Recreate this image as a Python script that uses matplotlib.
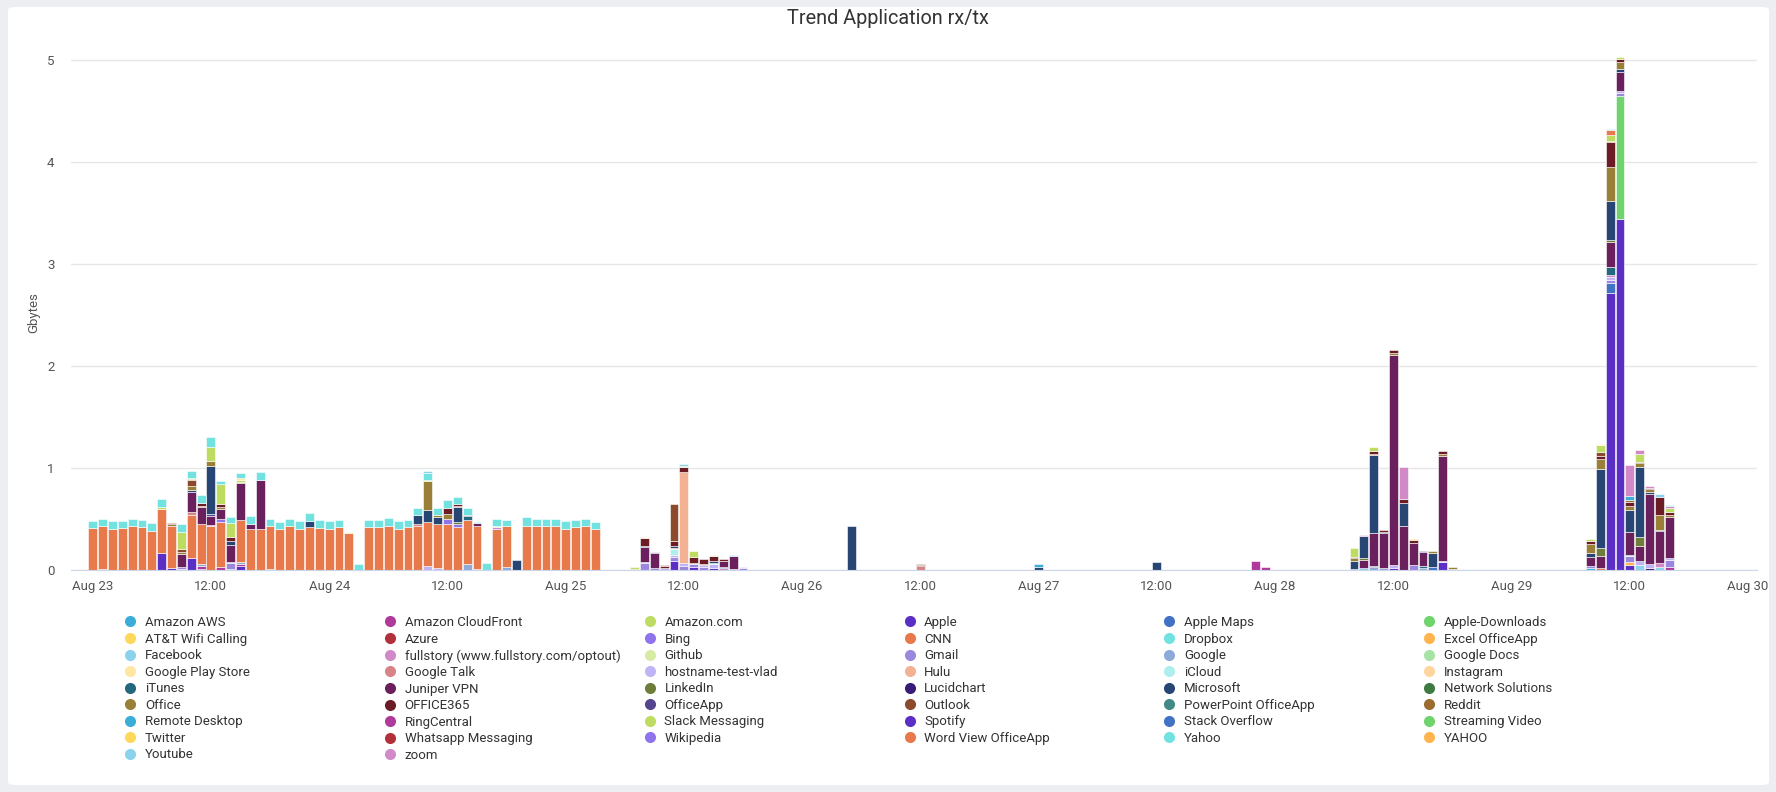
import numpy as np
import pandas as pd
import matplotlib
matplotlib.use("Agg")
import matplotlib.pyplot as plt
import matplotlib.dates as mdates
from matplotlib.lines import Line2D
from matplotlib.patches import FancyBboxPatch

plt.rcParams["font.family"] = ["Roboto", "DejaVu Sans"]

# legend order (alphabetical, as in the chart)
apps = [
    "Amazon AWS", "Amazon CloudFront", "Amazon.com", "Apple", "Apple Maps", "Apple-Downloads",
    "AT&T Wifi Calling", "Azure", "Bing", "CNN", "Dropbox", "Excel OfficeApp",
    "Facebook", "fullstory (www.fullstory.com/optout)", "Github", "Gmail", "Google", "Google Docs",
    "Google Play Store", "Google Talk", "hostname-test-vlad", "Hulu", "iCloud", "Instagram",
    "iTunes", "Juniper VPN", "LinkedIn", "Lucidchart", "Microsoft", "Network Solutions",
    "Office", "OFFICE365", "OfficeApp", "Outlook", "PowerPoint OfficeApp", "Reddit",
    "Remote Desktop", "RingCentral", "Slack Messaging", "Spotify", "Stack Overflow", "Streaming Video",
    "Twitter", "Whatsapp Messaging", "Wikipedia", "Word View OfficeApp", "Yahoo", "YAHOO",
    "Youtube", "zoom",
]
palette = [
    "#3aaed8", "#b0399c", "#bfdc62", "#5b2fc6", "#4272c4", "#6fd46e",
    "#ffd75a", "#b2303a", "#8f74ee", "#e8794a", "#72e2e0", "#ffb450",
    "#8bd2ec", "#d189c8", "#d7eba5", "#9c87de", "#8eaad9", "#a7e3a6",
    "#ffe6a1", "#d88487", "#c1b4f6", "#f2b293", "#aeeeed", "#ffd69f",
    "#24687f", "#6b205e", "#6e7d3a", "#381d78", "#284673", "#3f7b41",
    "#9a7f38", "#6b1c24", "#55458e", "#8b4a2b", "#438988", "#9b6c30",
]
colors = {a: palette[i % len(palette)] for i, a in enumerate(apps)}

# hourly Gbytes, key = hours since Aug 23 00:00
apple = {7: .17, 8: .02, 10: .12, 11: .005, 14: .01, 15: .035, 59: .09, 61: .033, 63: .015,
         132: .02, 137: .075, 154: 2.72, 155: 3.44, 156: .047}
lucidchart = {158: .02}
apple_downloads = {155: 1.212}
ringcentral = {11: .03, 13: .03, 15: .02, 118: .09, 119: .03, 160: .03}
remote_desktop = {152: .02}
excel = {9: .01, 156: .033}
facebook = {129: .016, 157: .047, 159: .03}
stack_overflow = {136: .033, 154: .09}
google = {11: .02, 15: .02, 38: .06, 42: .03, 130: .033, 131: .023, 135: .023}
gmail = {1: .01, 9: .02, 14: .055, 18: .01, 56: .065, 57: .023, 59: .04, 60: .04, 61: .027,
         62: .03, 66: .016, 134: .045, 152: .017, 154: .035, 155: .023, 156: .057, 160: .067}
hostname = {14: .015, 34: .035, 35: .02, 39: .01, 56: .01, 58: .015, 59: .015, 60: .025,
            61: .012, 62: .015, 63: .04, 66: .01, 132: .025, 137: .015, 138: .013, 154: .03,
            155: .025, 157: .04, 158: .043, 160: .017}
cnn = {0: .41, 1: .42, 2: .40, 3: .41, 4: .43, 5: .42, 6: .38, 7: .43, 8: .41, 10: .42, 11: .40,
       12: .43, 13: .445, 15: .415, 16: .40, 17: .40, 18: .42, 19: .40, 20: .43, 21: .40, 22: .42,
       23: .415, 24: .40, 25: .42, 26: .36, 28: .42, 29: .42, 30: .435, 31: .40, 32: .42, 33: .43,
       34: .435, 35: .435, 36: .45, 37: .42, 38: .43, 39: .42, 41: .40, 42: .40, 44: .435, 45: .43,
       46: .43, 47: .43, 48: .40, 49: .42, 50: .43, 51: .40, 153: .02}
bing = {13: .025, 36: .05, 37: .03}
zoom = {12: .01, 41: .02, 64: .015, 65: .013, 154: .015, 159: .034}
icloud = {59: .065, 63: .015, 132: .007, 156: .01}
instagram = {59: .01}
hulu = {60: .895}
google_talk = {10: .03, 33: .02, 84: .04}
itunes = {38: .035, 64: .013, 128: .01, 130: .01, 135: .02, 154: .077}
juniper = {9: .13, 10: .19, 11: .16, 12: .09, 13: .10, 14: .17, 15: .36, 16: .05, 17: .485,
           38: .01, 39: .03, 56: .155, 57: .145, 64: .065, 65: .127, 129: .082, 130: .317,
           131: .337, 132: 2.053, 133: .436, 134: .215, 135: .131, 137: 1.025, 152: .093,
           153: .12, 154: .247, 155: .18, 156: .228, 157: .153, 158: .686, 159: .316, 160: .406}
linkedin = {37: .02, 129: .016, 153: .08, 154: .02, 157: .08}
officeapp = {12: .02, 57: .005}
microsoft = {10: .02, 12: .47, 14: .035, 22: .06, 33: .09, 34: .12, 35: .065, 37: .15, 43: .10,
             56: .01, 59: .02, 62: .006, 63: .015, 77: .43, 96: .03, 108: .08, 128: .075,
             129: .216, 130: .765, 131: .015, 133: .219, 135: .013, 136: .131, 152: .034,
             153: .77, 154: .381, 155: .03, 156: .215, 157: .687, 158: .016, 159: .016}
office = {8: .02, 9: .02, 10: .04, 11: .015, 12: .05, 13: .015, 15: .015, 34: .285, 35: .015,
          36: .05, 37: .01, 55: .01, 62: .01, 128: .03, 130: .015, 132: .02, 136: .023,
          137: .025, 138: .013, 152: .09, 153: .094, 154: .335, 155: .07, 156: .035, 157: .043,
          158: .025, 159: .144, 160: .02}
office365 = {8: .01, 11: .03, 13: .03, 14: .035, 36: .06, 37: .02, 56: .07, 58: .025, 59: .04,
             60: .05, 61: .053, 62: .045, 63: .05, 64: .013, 84: .01, 128: .015, 130: .03,
             131: .015, 132: .03, 133: .045, 134: .035, 137: .03, 152: .026, 153: .033,
             154: .244, 155: .033, 156: .045, 157: .013, 158: .016, 159: .18, 160: .03}
outlook = {9: .03, 10: .06, 57: .007, 58: .01, 59: .37, 84: .01, 153: .04}
reddit = {10: .015, 154: .016, 156: .015}
slack = {7: .02, 9: .16, 10: .01, 12: .14, 13: .195, 14: .14, 15: .015, 34: .01, 55: .015,
         61: .062, 128: .09, 130: .04, 152: .02, 153: .067, 154: .06, 155: .017, 157: .071,
         160: .035}
amazon_aws = {96: .03, 156: .045}
word_view = {154: .04}
yahoo_caps = {134: .01}
github = {26: .01, 41: .01, 60: .005, 63: .01}
play_store = {15: .025, 56: .01, 153: .01, 157: .008}
fullstory = {129: .01, 133: .31, 156: .297, 157: .035, 158: .017, 160: .02}
dropbox = {0: .07, 1: .07, 2: .08, 3: .07, 4: .07, 5: .07, 6: .08, 7: .08, 9: .08, 10: .07,
           11: .08, 12: .09, 13: .035, 14: .055, 15: .05, 16: .075, 17: .075, 18: .07, 19: .07,
           20: .07, 21: .08, 22: .08, 23: .075, 24: .08, 25: .07, 27: .055, 28: .07, 29: .07,
           30: .075, 31: .08, 32: .07, 33: .07, 34: .065, 35: .075, 36: .075, 37: .07, 38: .075,
           39: .01, 40: .065, 41: .07, 42: .06, 44: .08, 45: .07, 46: .07, 47: .07, 48: .08,
           49: .07, 50: .07, 51: .07, 160: .015}
youtube = {34: .02, 60: .02, 65: .01, 154: .014, 159: .03}

# stacking order, bottom to top
stack = [
    ("Apple", apple), ("Lucidchart", lucidchart), ("Apple-Downloads", apple_downloads),
    ("RingCentral", ringcentral), ("Remote Desktop", remote_desktop), ("Excel OfficeApp", excel),
    ("Facebook", facebook), ("Stack Overflow", stack_overflow), ("Google", google),
    ("Gmail", gmail), ("hostname-test-vlad", hostname), ("CNN", cnn), ("Bing", bing),
    ("zoom", zoom), ("iCloud", icloud), ("Instagram", instagram), ("Hulu", hulu),
    ("Google Talk", google_talk), ("iTunes", itunes), ("Juniper VPN", juniper),
    ("LinkedIn", linkedin), ("OfficeApp", officeapp), ("Microsoft", microsoft),
    ("Office", office), ("OFFICE365", office365), ("Outlook", outlook), ("Reddit", reddit),
    ("Slack Messaging", slack), ("Amazon AWS", amazon_aws), ("Word View OfficeApp", word_view),
    ("YAHOO", yahoo_caps), ("Github", github), ("Google Play Store", play_store),
    ("fullstory (www.fullstory.com/optout)", fullstory), ("Dropbox", dropbox),
    ("Youtube", youtube),
]

W, H = 1776, 792
fig = plt.figure(figsize=(W / 100, H / 100), dpi=100, facecolor="#eceef1")
card = FancyBboxPatch((8 / W, 7 / H), 1761 / W, 778 / H, boxstyle="round,pad=0,rounding_size=0.004",
                      transform=fig.transFigure, facecolor="white", edgecolor="none", zorder=-10)
fig.patches.append(card)

ax = fig.add_axes([71 / W, 1 - 570 / H, 1686 / W, 515 / H])
ax.set_facecolor("none")

start = pd.Timestamp("2023-08-23")
n_hours = 169
times = pd.date_range(start, periods=n_hours, freq="h")
x = mdates.date2num(times.to_pydatetime())
width = 0.9 / 24

bottom = np.zeros(n_hours)
for name, data in stack:
    vals = np.zeros(n_hours)
    for h, v in data.items():
        vals[h] = v
    m = vals > 0
    ax.bar(x[m], vals[m], width=width, bottom=bottom[m], color=colors[name],
           edgecolor="white", linewidth=0.4, zorder=3)
    bottom += vals

ax.set_xlim(mdates.date2num(start - pd.Timedelta(hours=2.2)),
            mdates.date2num(start + pd.Timedelta(hours=168.9)))
ax.set_ylim(0, 5.05)
ax.set_yticks([0, 1, 2, 3, 4, 5])
ax.grid(axis="y", color="#e6e6e6", linewidth=1, zorder=0)
ax.xaxis.set_major_locator(mdates.HourLocator(byhour=[0, 12]))


def fmt(v, pos):
    d = mdates.num2date(v)
    return d.strftime("%b %d") if d.hour == 0 else d.strftime("%H:%M")


ax.xaxis.set_major_formatter(plt.FuncFormatter(fmt))
for s in ["top", "right", "left"]:
    ax.spines[s].set_visible(False)
ax.spines["bottom"].set_color("#ccd6eb")
ax.spines["bottom"].set_zorder(4)
ax.tick_params(axis="x", length=0, pad=7, labelsize=9.5, labelcolor="#555555")
ax.tick_params(axis="y", length=0, pad=12, labelsize=9.5, labelcolor="#555555")
ax.set_ylabel("Gbytes", fontsize=9.5, color="#555555")
ax.yaxis.set_label_coords(-0.018, 0.5)

fig.text(0.5, 1 - 18 / H, "Trend Application rx/tx", ha="center", va="center",
         fontsize=14.3, color="#333333")

# legend: 6 columns, filled row by row
ncol = 6
for c in range(ncol):
    names = apps[c::ncol]
    handles = [Line2D([], [], linestyle="none", marker="o", markersize=8,
                      markerfacecolor=colors[n], markeredgecolor="none") for n in names]
    fig.legend(handles, names, loc="upper left",
               bbox_to_anchor=((125 + c * 259.8) / W, 1 - 616 / H),
               frameon=False, borderpad=0, borderaxespad=0, handlelength=0.8,
               handletextpad=0.7, labelspacing=0.27, fontsize=9.5, labelcolor="#333333")

fig.savefig("out.png", dpi=100, facecolor=fig.get_facecolor())
